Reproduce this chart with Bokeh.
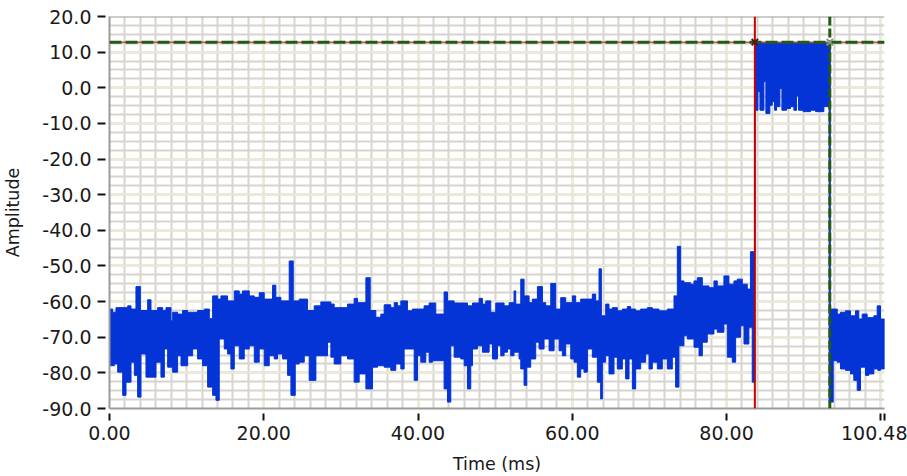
from bokeh.plotting import figure
from bokeh.models import FixedTicker, PrintfTickFormatter, Span, Range1d
from bokeh.embed import file_html
from bokeh.resources import INLINE

# ---------------- data ----------------
X_END = 100.48
Y_MIN, Y_MAX = -90.0, 20.0
X_TICKS = [0, 20, 40, 60, 80, 100, 100.48]
X_MINOR = [2 * i for i in range(51)]
Y_TICKS = [-90, -80, -70, -60, -50, -40, -30, -20, -10, 0, 10, 20]
Y_MINOR = [-90 + 2.5 * i for i in range(45)]

CURSOR1_T = 83.67
CURSOR2_T = 93.39
CURSOR_Y = 12.8

# upper envelope of the signal (value holds from t[i] to t[i+1])
HI_T = [0, 0.41, 0.84, 2.35, 2.79, 3.43, 4.0, 4.95, 5.38, 6.24,
        6.89, 7.32, 7.97, 8.19, 8.83, 9.48, 10.13, 11.42, 12.29, 12.94,
        13.37, 14.02, 14.45, 15.31, 16.18, 16.82, 17.25, 18.12, 18.77, 19.41,
        20.06, 21.14, 21.57, 22.22, 23.3, 23.82, 24.6, 25.68, 26.54, 27.4,
        28.7, 29.13, 30.86, 31.72, 32.16, 33.24, 33.8, 34.53, 35.18, 35.61,
        36.47, 36.91, 37.34,
        37.77, 38.63, 39.28, 40.79, 41.44, 42.3, 43.38, 43.82, 44.68, 46.41,
        47.06, 47.92, 48.35, 48.78, 49.43, 50.08, 51.16, 51.81, 52.45, 52.67,
        53.32, 53.75, 54.4, 54.83, 55.48, 56.13, 56.56, 57.21, 57.85, 58.5,
        59.15, 60.01, 60.44, 61.09, 62.6, 63.04, 63.47, 63.77, 64.33, 64.76,
        65.2, 65.84, 66.49, 67.14, 67.57, 68.22, 68.87, 69.73, 70.38, 71.24,
        72.32, 73.19, 73.62, 74.05, 74.48, 75.35, 75.78, 76.21, 76.86, 77.72,
        78.37, 78.8, 79.66, 80.31, 80.96, 81.39, 82.04, 82.69, 83.1, 83.67,
        93.45, 94.35, 94.78, 95.42, 96.07, 96.72, 97.15, 97.58, 98.23, 99.1,
        99.53, 99.96]
HI_V = [-62.1, -63.0, -61.7, -61.2, -62.1, -55.8, -62.5, -59.5, -62.5, -61.7,
        -62.5, -61.7, -65.4, -63.0, -63.5, -62.5, -63.0, -62.5, -62.1, -64.8,
        -58.4, -59.3, -58.4, -59.8, -57.0, -57.9, -57.0, -58.4, -58.8, -57.5,
        -59.3, -55.4, -58.8, -59.8, -48.6, -59.8, -59.3, -62.5, -61.2, -60.1,
        -60.7, -61.7, -60.7, -59.1, -60.3, -53.3, -62.5, -64.4, -63.5, -60.9,
        -61.7, -60.3, -61.2,
        -59.8, -62.6, -62.1, -61.2, -60.4, -63.5, -57.3, -59.8, -60.4, -61.2,
        -60.4, -59.1, -60.7, -59.8, -63.0, -60.4, -61.2, -60.3, -57.0, -60.7,
        -53.7, -58.4, -60.3, -59.3, -55.8, -60.3, -61.2, -54.9, -62.1, -58.9,
        -60.3, -58.4, -60.3, -59.3, -57.9, -59.8, -50.8, -64.0, -60.7, -62.1,
        -61.7, -62.6, -62.1, -61.4, -62.1, -62.6, -62.1, -61.7, -62.1, -62.6,
        -62.1, -58.4, -44.5, -54.2, -54.7, -55.1, -54.2, -53.3, -55.6, -56.1,
        -54.2, -55.6, -52.8, -55.1, -54.2, -53.7, -55.1, -56.5, -46.0, 12.5,
        -62.1, -63.5, -63.0, -62.6, -64.0, -62.6, -64.9, -63.5, -64.5, -64.0,
        -61.2, -64.9]

# lower envelope of the signal
LO_T = [0, 0.63, 1.06, 1.71, 2.14, 2.79, 3.22, 3.65, 4.08, 4.73,
        6.03, 6.67, 7.11, 7.54, 8.19, 8.83, 9.27, 10.13, 10.78, 11.42,
        12.07, 12.72, 13.37, 13.8, 14.23, 14.88, 15.31, 15.74, 16.18, 16.82,
        17.47, 18.12, 18.77, 19.41, 20.06, 20.71, 21.36, 21.79, 22.44, 23.09,
        23.52, 24.08, 24.6, 25.25, 25.89, 26.76, 28.27, 28.7, 29.13, 30.0,
        30.86, 31.72, 32.37, 33.24, 34.1, 34.75, 35.61, 36.47, 37.12,
        37.77, 38.2, 39.5, 39.93, 40.36, 41.01, 41.44, 41.87, 43.38, 43.82,
        44.25, 44.68, 45.54, 45.98, 46.41, 46.84, 47.06, 47.7, 48.35, 49.22,
        49.65, 50.3, 50.73, 51.16, 51.59, 52.02, 52.45, 53.1, 53.32, 53.75,
        54.1, 54.61, 55.26, 55.69, 56.34, 56.99, 57.64, 58.29, 58.72, 59.15,
        59.8, 60.23, 60.66, 61.09, 61.52, 61.96, 62.6, 63.25, 63.68, 63.9,
        64.33, 64.76, 65.41, 65.84, 66.49, 66.92, 67.36, 67.79, 68.22, 68.87,
        69.52, 69.95, 70.38, 71.03, 71.67, 72.32, 72.97, 73.4, 73.83, 74.48,
        74.91, 75.78, 76.43, 76.86, 77.5, 78.37, 78.8, 79.66, 80.1, 80.74,
        81.18, 81.82, 82.26, 82.9, 83.33,
        83.67, 84.07, 84.33, 84.85, 85.1, 85.62, 85.93, 86.23, 86.49, 86.92,
        87.18, 87.78, 88.3, 88.73, 89.08, 89.34, 89.94, 90.89, 91.54, 92.62,
        93.3, 93.83, 94.35, 94.78, 95.42, 96.07, 96.5, 96.94, 97.37, 98.02,
        98.45, 99.1, 99.61, 99.96]
LO_V = [-78.0, -77.5, -79.8, -86.3, -82.6, -77.0, -80.7, -86.8, -74.7, -81.2,
        -77.0, -81.2, -73.3, -78.4, -79.8, -75.2, -78.0, -75.2, -73.3, -76.1,
        -78.0, -84.0, -86.3, -87.7, -70.5, -73.3, -74.7, -78.9, -72.4, -76.1,
        -73.3, -72.4, -77.0, -73.3, -78.0, -75.2, -76.1, -74.7, -76.1, -80.7,
        -86.3, -77.5, -77.0, -75.2, -82.1, -75.2, -71.4, -75.6, -77.5, -75.2,
        -76.1, -82.6, -80.3, -84.5, -78.4, -78.0, -78.4, -79.3, -77.5,
        -78.9, -73.3, -82.1, -75.2, -77.0, -74.2, -77.0, -76.6, -84.5, -88.2,
        -72.4, -75.6, -76.1, -78.0, -84.5, -78.0, -73.3, -72.4, -74.2, -71.9,
        -76.1, -72.4, -75.2, -74.2, -73.3, -75.2, -74.2, -76.1, -78.9, -83.5,
        -78.4, -76.1, -71.4, -73.3, -70.5, -73.8, -70.5, -73.8, -75.2, -71.9,
        -76.1, -77.0, -81.2, -78.9, -79.8, -73.3, -75.6, -82.6, -87.3, -77.0,
        -75.2, -80.3, -75.6, -78.9, -76.1, -81.7, -76.1, -84.5, -78.9, -77.0,
        -74.7, -78.9, -77.0, -78.9, -76.1, -78.9, -75.6, -84.0, -72.4, -69.6,
        -70.5, -72.8, -75.2, -71.4, -69.1, -67.7, -68.6, -66.3, -75.6, -77.0,
        -70.0, -66.8, -71.9, -67.2, -82.6,
        -6.3, -1.1, -6.3, 1.7, -7.2, -4.9, -3.9, -6.3, -5.3, -0.2,
        -6.3, -5.8, -5.3, -6.3, -2.3, -6.3, -6.7, -6.3, -6.7, -5.3,
        -88.2, -76.6, -77.0, -78.9, -79.3, -80.3, -82.1, -84.9, -78.4, -80.7,
        -80.3, -78.9, -79.3, -78.9]

assert len(HI_T) == len(HI_V) and len(LO_T) == len(LO_V)


def steps(ts, vs, end):
    xs, ys = [], []
    for i, (t, v) in enumerate(zip(ts, vs)):
        nxt = ts[i + 1] if i + 1 < len(ts) else end
        xs += [t, nxt]
        ys += [v, v]
    return xs, ys


ux, uy = steps(HI_T, HI_V, X_END)
lx, ly = steps(LO_T, LO_V, X_END)
px = ux + lx[::-1]
py = uy + ly[::-1]

# ---------------- styles / layout ----------------
BLUE = "#0433d6"
RED = "#c80000"
GREEN = "#245a12"
FRAME = "#9c9c9c"
MAJOR_GRID = "#ecead6"
MINOR_GRID = "#d7d4cd"
FONT = "DejaVu Sans"
TICK_FONT_SIZE = "19px"
TEXT_COLOR = "#1a1a1a"

p = figure(width=907, height=476, output_backend="svg", toolbar_location=None,
           x_range=Range1d(0, X_END), y_range=Range1d(Y_MIN, Y_MAX),
           min_border_left=108, min_border_right=23, min_border_top=16,
           min_border_bottom=66, outline_line_color=None,
           background_fill_color="white", border_fill_color="white")

xt = FixedTicker(ticks=X_TICKS, minor_ticks=X_MINOR)
yt = FixedTicker(ticks=Y_TICKS, minor_ticks=Y_MINOR)
p.xaxis.ticker = xt
p.yaxis.ticker = yt
p.xgrid.ticker = xt
p.ygrid.ticker = yt
p.xaxis.formatter = PrintfTickFormatter(format="%.2f")
p.yaxis.formatter = PrintfTickFormatter(format="%.1f")
p.xaxis.major_label_overrides = {100: ""}

for g in (p.xgrid, p.ygrid):
    g.grid_line_color = MAJOR_GRID
    g.grid_line_width = 2
    g.minor_grid_line_color = MINOR_GRID
    g.minor_grid_line_width = 2

for ax in (p.xaxis, p.yaxis):
    ax.axis_line_color = FRAME
    ax.axis_line_width = 2
    ax.major_tick_line_color = "#111111"
    ax.major_tick_line_width = 2
    ax.minor_tick_line_color = None
    ax.major_label_text_font = FONT
    ax.major_label_text_font_size = TICK_FONT_SIZE
    ax.major_label_text_color = TEXT_COLOR
    ax.axis_label_text_font = FONT
    ax.axis_label_text_font_size = "17.5px"
    ax.axis_label_text_font_style = "normal"
    ax.axis_label_text_color = TEXT_COLOR

p.yaxis.major_tick_in = -4
p.yaxis.major_tick_out = 12
p.yaxis.major_label_standoff = 6
p.yaxis.axis_label = "Amplitude"
p.yaxis.axis_label_standoff = 16

p.xaxis.major_tick_in = -5
p.xaxis.major_tick_out = 12
p.xaxis.major_label_standoff = 5
p.xaxis.axis_label = "Time (ms)"
p.xaxis.axis_label_standoff = 11

# signal
p.patch(px, py, fill_color=BLUE, line_color=BLUE, line_width=1)

# frame top border
p.add_layout(Span(location=Y_MAX, dimension="width", line_color=FRAME, line_width=2))

# cursors
p.add_layout(Span(location=CURSOR_Y, dimension="width", line_color=RED, line_width=1))
p.add_layout(Span(location=CURSOR_Y, dimension="width", line_color=GREEN,
                  line_width=3, line_dash="12 4"))
p.add_layout(Span(location=CURSOR1_T, dimension="height", line_color=RED, line_width=2))
p.add_layout(Span(location=CURSOR2_T, dimension="height", line_color=GREEN,
                  line_width=3, line_dash="9 3"))
r1 = p.scatter([CURSOR1_T], [CURSOR_Y], marker="x", size=9,
               line_color="#4a1a12", line_width=2)
r2 = p.scatter([CURSOR2_T], [CURSOR_Y], marker="x", size=9,
               line_color="#8a9884", line_width=2)
r1.level = "overlay"
r2.level = "overlay"

open("out.html", "w").write(file_html(p, INLINE))
